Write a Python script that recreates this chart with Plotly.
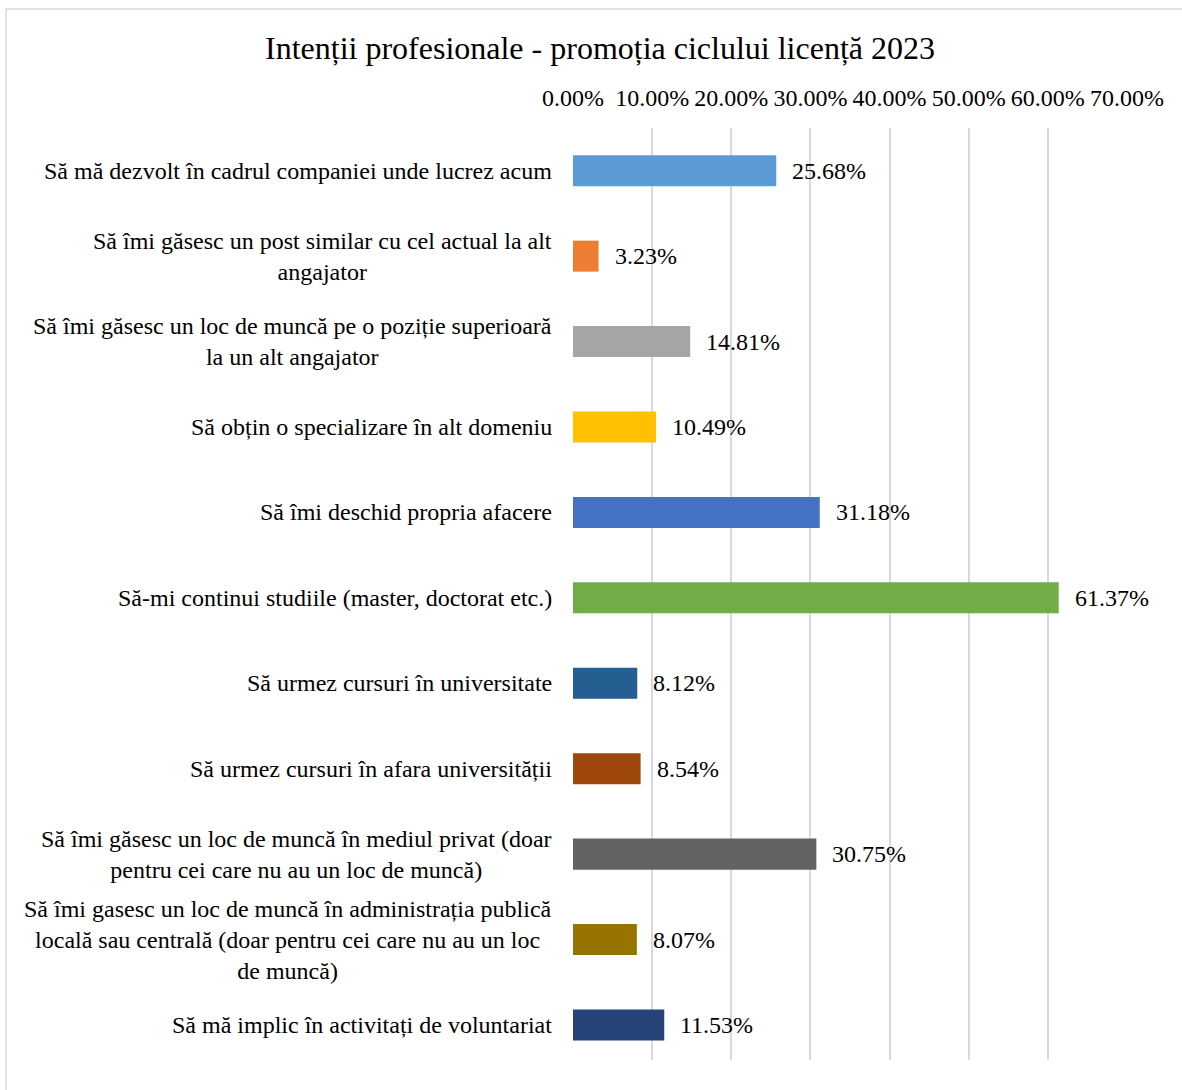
import plotly.graph_objects as go

categories = [
    "Să mă dezvolt în cadrul companiei unde lucrez acum",
    "Să îmi găsesc un post similar cu cel actual la alt<br>angajator",
    "Să îmi găsesc un loc de muncă pe o poziție superioară<br>la un alt angajator",
    "Să obțin o specializare în alt domeniu",
    "Să îmi deschid propria afacere",
    "Să-mi continui studiile (master, doctorat etc.)",
    "Să urmez cursuri în universitate",
    "Să urmez cursuri în afara universității",
    "Să îmi găsesc un loc de muncă în mediul privat (doar<br>pentru cei care nu au un loc de muncă)",
    "Să îmi gasesc un loc de muncă în administrația publică<br>locală sau centrală (doar pentru cei care nu au un loc<br>de muncă)",
    "Să mă implic în activitați de voluntariat",
]
values = [0.2568, 0.0323, 0.1481, 0.1049, 0.3118, 0.6137, 0.0812, 0.0854, 0.3075, 0.0807, 0.1153]
colors = ["#5B9BD5", "#ED7D31", "#A5A5A5", "#FFC000", "#4472C4", "#70AD47",
          "#255E91", "#9E480E", "#636363", "#997300", "#264478"]
tick_vals = [0, 0.1, 0.2, 0.3, 0.4, 0.5, 0.6, 0.7]
title_text = "Intenții profesionale - promoția ciclului licență 2023"

FONT = "Liberation Serif"
FS = 24
ids = list(range(len(categories)))

fig = go.Figure()
fig.add_trace(go.Bar(
    x=values, y=ids, orientation="h",
    marker=dict(color=colors, line=dict(width=0)),
    width=0.363, hoverinfo="skip",
))

annotations = []
for i, c in enumerate(categories):
    annotations.append(dict(
        x=0, xref="paper", y=i, yref="y", text=c, showarrow=False,
        xanchor="right", yanchor="middle", align="center", xshift=-19,
        font=dict(family=FONT, size=FS, color="#000000"),
    ))
for i, v in enumerate(values):
    annotations.append(dict(
        x=v, xref="x", y=i, yref="y", text=f"{v*100:.2f}%", showarrow=False,
        xanchor="left", yanchor="middle", xshift=14,
        font=dict(family=FONT, size=FS, color="#000000"),
    ))

fig.update_layout(
    width=1182, height=1090,
    paper_bgcolor="white", plot_bgcolor="white",
    margin=dict(l=573, r=55, t=128, b=30),
    showlegend=False,
    title=dict(text=title_text, x=600 / 1182, xanchor="center", y=1 - 48 / 1090, yanchor="middle",
               font=dict(family=FONT, size=32, color="#000000")),
    xaxis=dict(
        side="top", range=[0, 0.7], tickvals=tick_vals, tickformat=".2%",
        showgrid=True, gridcolor="#D9D9D9", gridwidth=1.5,
        zeroline=False, showline=False, ticks="",
        ticklabelstandoff=16,
        tickfont=dict(family=FONT, size=FS, color="#000000"),
    ),
    yaxis=dict(
        range=[10.41, -0.5], showticklabels=False,
        showgrid=False, zeroline=False, showline=False, ticks="",
    ),
    annotations=annotations,
    shapes=[dict(type="rect", xref="paper", yref="paper",
                 x0=(6 - 573) / 554, x1=1.2, y0=-0.2, y1=(1060 - 9) / 932,
                 line=dict(color="#D9D9D9", width=1.5), fillcolor="rgba(0,0,0,0)",
                 layer="below")],
)

fig.write_html("out.html", config={"displayModeBar": False},
               post_script="document.body.style.margin='0';")
